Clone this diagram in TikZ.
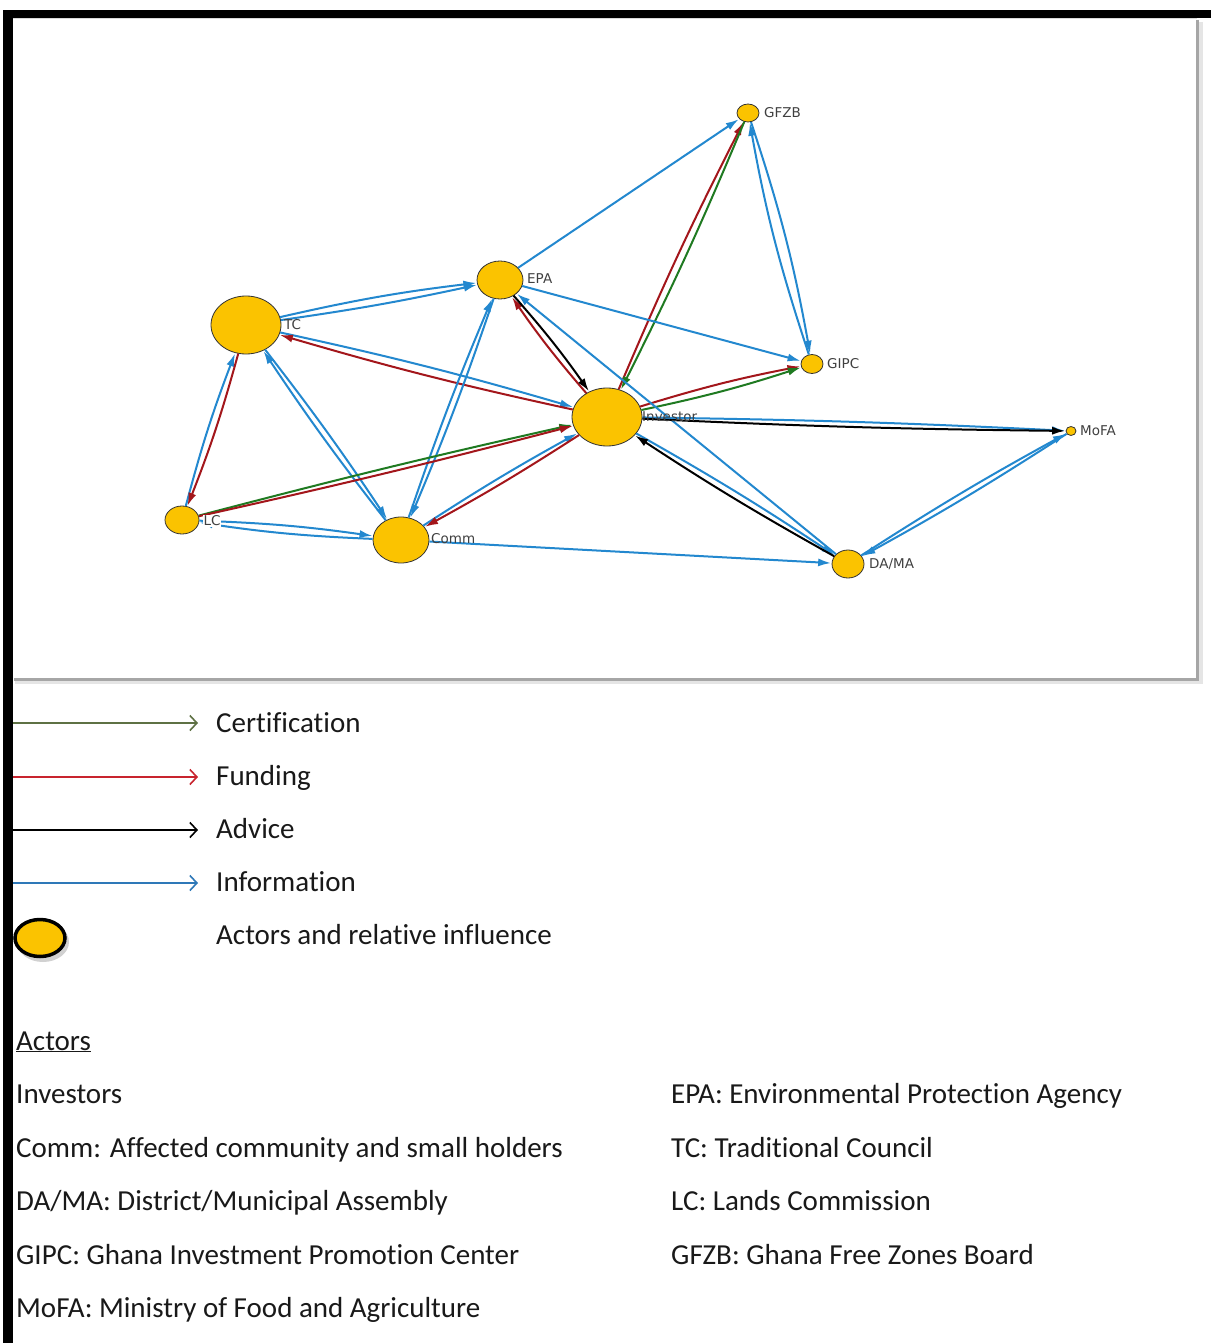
\documentclass[tikz,border=0pt]{standalone}
\usepackage{fontspec}
\setmainfont{Carlito}[Ligatures={NoCommon}]
\newfontfamily\netfont{DejaVu Sans}
\usetikzlibrary{arrows.meta,shapes.geometric}
\definecolor{infob}{HTML}{2388CF}
\definecolor{fundr}{HTML}{A3161B}
\definecolor{certg}{HTML}{1F7A21}
\definecolor{nodey}{HTML}{FBC300}
\definecolor{lgcert}{HTML}{5E7144}
\definecolor{lgfund}{HTML}{C8242E}
\definecolor{lginfo}{HTML}{2E78B8}
\tikzset{
  actor/.style={ellipse, draw=black!80, line width=0.8pt, fill=nodey, inner sep=0pt},
  nlbl/.style={anchor=west, font=\netfont\fontsize{13.5}{15}\selectfont, text=black!75, inner sep=1pt},
  edge/.style={line width=2pt, -{Latex[length=13pt,width=8pt]}, shorten >=0.5pt},
  info/.style={edge, infob},
  fund/.style={edge, fundr},
  cert/.style={edge, certg},
  advi/.style={edge, black},
  lgline/.style={line width=1.6pt, -{Straight Barb[length=7pt,width=15pt,line width=1.6pt]}},
  lgtxt/.style={anchor=base west, font=\fontsize{29}{32}\selectfont, text=black!90, inner sep=0pt},
}
\begin{document}
\begin{tikzpicture}[x=1pt,y=-1pt]
\useasboundingbox (0,0) rectangle (1211,1343);
% frame
\fill[white] (0,0) rectangle (1211,1343);
\fill[black!10] (15,680) rectangle (1201,684);
\fill[black!10] (1199,22) rectangle (1203,684);
\fill[white] (13,18) rectangle (1197,678);
\draw[black!35, line width=2.5pt] (1197.5,20) -- (1197.5,679.5) -- (14,679.5);
\draw[black!15, line width=0.8pt] (13,18.5) -- (1197,18.5);
\fill[black] (3,10) rectangle (1211,18);
\fill[black] (3,10) rectangle (13,1343);

% actors
\node[actor, minimum width=22pt, minimum height=18pt] (gfzb) at (748,113) {};
\node[actor, minimum width=46pt, minimum height=38pt] (epa) at (500,280) {};
\node[actor, minimum width=70pt, minimum height=58pt] (tc) at (246,325) {};
\node[actor, minimum width=22pt, minimum height=19pt] (gipc) at (812,364) {};
\node[actor, minimum width=70pt, minimum height=58pt] (inv) at (607,417) {};
\node[actor, minimum width=10pt, minimum height=9pt] (mofa) at (1071,431) {};
\node[actor, minimum width=34pt, minimum height=28pt] (lc) at (182,520) {};
\node[actor, minimum width=56pt, minimum height=46pt] (comm) at (401,540) {};
\node[actor, minimum width=32pt, minimum height=28pt] (dama) at (848,564) {};

% edges
\draw[info] (epa) -- (gfzb);
\draw[fund] (inv) to[bend left=2] (gfzb);
\draw[cert] (gfzb) to[bend left=2] (inv);
\draw[info] (gfzb) to[bend left=4] (gipc);
\draw[info] (gipc) to[bend left=4] (gfzb);
\draw[info] (epa) -- (gipc);
\draw[fund] (inv) to[bend left=3] (gipc);
\draw[cert] (inv) to[bend right=3] (gipc);
\draw[info] (tc) to[bend left=3] (epa);
\draw[info] (tc) to[bend right=2] (epa);
\draw[info] (tc) to[bend left=2] (inv);
\draw[fund] (inv) to[bend left=2] (tc);
\draw[info] (lc) to[bend left=3] (tc);
\draw[fund] (tc) to[bend left=3] (lc);
\draw[info] (tc) to[bend left=2] (comm);
\draw[info] (comm) to[bend left=2] (tc);
\draw[info] (epa) to[bend left=2] (comm);
\draw[info] (comm) to[bend left=2] (epa);
\draw[fund] (inv) to[bend left=3] (epa);
\draw[advi] (epa) to[bend left=3] (inv);
\draw[info] (dama) -- (epa);
\draw[info] (inv) to[bend left=2] (dama);
\draw[advi] (dama) to[bend left=2] (inv);
\draw[cert] (lc) to[bend left=1] (inv);
\draw[fund] (lc) to[bend right=1] (inv);
\draw[info] (comm) to[bend left=2] (inv);
\draw[fund] (inv) to[bend left=2] (comm);
\draw[info] (lc) to[bend left=3] (comm);
\draw[info] (comm) to[bend left=3] (lc);
\draw[info] (comm) -- (dama);
\draw[info] (inv) to[bend left=1] (mofa);
\draw[advi] (inv) to[bend right=1] (mofa);
\draw[info] (dama) to[bend left=2] (mofa);
\draw[info] (mofa) to[bend left=2] (dama);

% labels
\node[nlbl] (lgfzb) at (763,113) {GFZB};
\node[nlbl] (lepa) at (526,279) {EPA};
\node[nlbl] (ltc) at (283,325) {TC};
\node[nlbl] (lgipc) at (826,364) {GIPC};
\node[nlbl] (linv) at (641,417) {Investor};
\node[nlbl] (lmofa) at (1079,431) {MoFA};
\node[nlbl, fill=white, inner sep=0.5pt] (llc) at (203,521) {LC};
\node[nlbl] (lcomm) at (430,539) {Comm};
\node[nlbl] (ldama) at (868,564) {DA/MA};

% legend
\coordinate (c1s) at (13,723); \coordinate (c1e) at (198,723);
\coordinate (c2s) at (13,777); \coordinate (c2e) at (198,777);
\coordinate (c3s) at (13,830); \coordinate (c3e) at (198,830);
\coordinate (c4s) at (13,883); \coordinate (c4e) at (198,883);
\draw[lgline, lgcert] (c1s) -- (c1e);
\draw[lgline, lgfund] (c2s) -- (c2e);
\draw[lgline, black] (c3s) -- (c3e);
\draw[lgline, lginfo] (c4s) -- (c4e);
\node[lgtxt] (tcert) at (216,732) {Certification};
\node[lgtxt] (tfund) at (216,785) {Funding};
\node[lgtxt] (tadv) at (216,838) {Advice};
\node[lgtxt] (tinfo) at (216,891) {Information};
\fill[black!18] (43,942) ellipse (26pt and 20pt);
\node[ellipse, draw=black, line width=3.5pt, fill=nodey, minimum width=50pt, minimum height=37pt, inner sep=0pt] (lgact) at (40,938) {};
\node[lgtxt] (tact) at (216,944) {Actors and relative influence};

% actors list
\node[lgtxt] (hact) at (16,1050) {\underline{Actors}};
\node[lgtxt] (a1) at (16,1103) {Investors};
\node[lgtxt] (a2) at (16,1157) {Comm: Affected community and small holders};
\node[lgtxt] (a3) at (16,1210) {DA/MA: District/Municipal Assembly};
\node[lgtxt] (a4) at (16,1264) {GIPC: Ghana Investment Promotion Center};
\node[lgtxt] (a5) at (16,1317) {MoFA: Ministry of Food and Agriculture};
\node[lgtxt] (b1) at (671,1103) {EPA: Environmental Protection Agency};
\node[lgtxt] (b2) at (671,1157) {TC: Traditional Council};
\node[lgtxt] (b3) at (671,1210) {LC: Lands Commission};
\node[lgtxt] (b4) at (671,1264) {GFZB: Ghana Free Zones Board};
\end{tikzpicture}
\end{document}
